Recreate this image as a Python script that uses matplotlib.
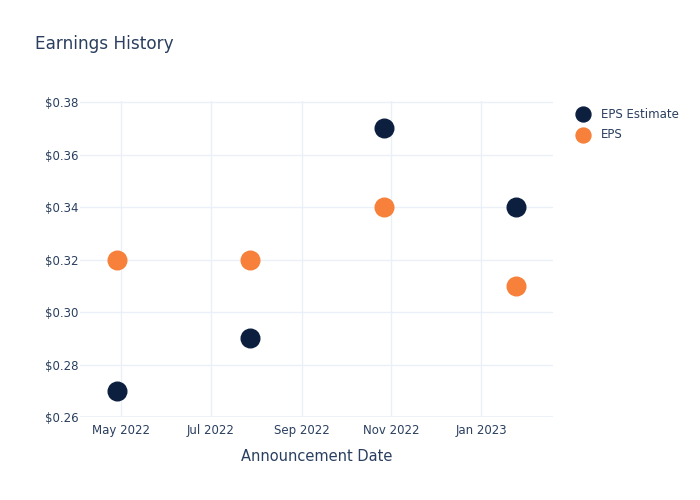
import matplotlib
matplotlib.use('Agg')
import matplotlib.pyplot as plt
from matplotlib.ticker import FuncFormatter
import numpy as np

TEXT = '#2a3f5f'
GRID = '#ebf0f8'
NAVY = '#0c1f3f'
ORANGE = '#f7803a'

dates = np.array(['2022-04-28', '2022-07-28', '2022-10-27', '2023-01-25'],
                 dtype='datetime64[D]')
eps_estimate = [0.27, 0.29, 0.37, 0.34]
eps_actual = [0.32, 0.32, 0.34, 0.31]
x_ticks = np.array(['2022-05-01', '2022-07-01', '2022-09-01', '2022-11-01', '2023-01-01'],
                   dtype='datetime64[D]')
x_tick_labels = ['May 2022', 'Jul 2022', 'Sep 2022', 'Nov 2022', 'Jan 2023']
y_ticks = [0.26, 0.28, 0.30, 0.32, 0.34, 0.36, 0.38]

fig = plt.figure(figsize=(7, 5), dpi=100)
ax = fig.add_axes([80 / 700, 1 - 417 / 500, 473 / 700, 316 / 500])

ax.scatter(dates, eps_estimate, s=180, color=NAVY, label='EPS Estimate', zorder=3)
ax.scatter(dates, eps_actual, s=180, color=ORANGE, label='EPS', zorder=3)

ax.set_xlim(np.datetime64('2022-04-03'), np.datetime64('2023-02-19'))
ax.set_ylim(0.26, 0.3804)
ax.set_xticks(x_ticks)
ax.set_xticklabels(x_tick_labels)
ax.set_yticks(y_ticks)
ax.yaxis.set_major_formatter(FuncFormatter(lambda v, p: '${:.2f}'.format(v)))

ax.grid(True, color=GRID, linewidth=1)
ax.set_axisbelow(True)
for s in ax.spines.values():
    s.set_visible(False)
ax.axhline(0.26, color=GRID, linewidth=1.2, zorder=1)
ax.tick_params(length=0, colors=TEXT, labelsize=8.5)
ax.tick_params(axis='x', pad=5)
ax.tick_params(axis='y', pad=1)
for lbl in ax.get_xticklabels() + ax.get_yticklabels():
    lbl.set_color(TEXT)

ax.set_xlabel('Announcement Date', color=TEXT, fontsize=10.5, labelpad=9)
fig.text(35 / 700, 1 - 44 / 500, 'Earnings History', color=TEXT, fontsize=12.2,
         va='center', ha='left')

leg = ax.legend(loc='upper left', bbox_to_anchor=(1.017, 1.013), frameon=False,
                fontsize=8.5, handletextpad=0.5, labelspacing=0.6, markerscale=0.8)
for t in leg.get_texts():
    t.set_color(TEXT)

fig.savefig('out.png', dpi=100)
